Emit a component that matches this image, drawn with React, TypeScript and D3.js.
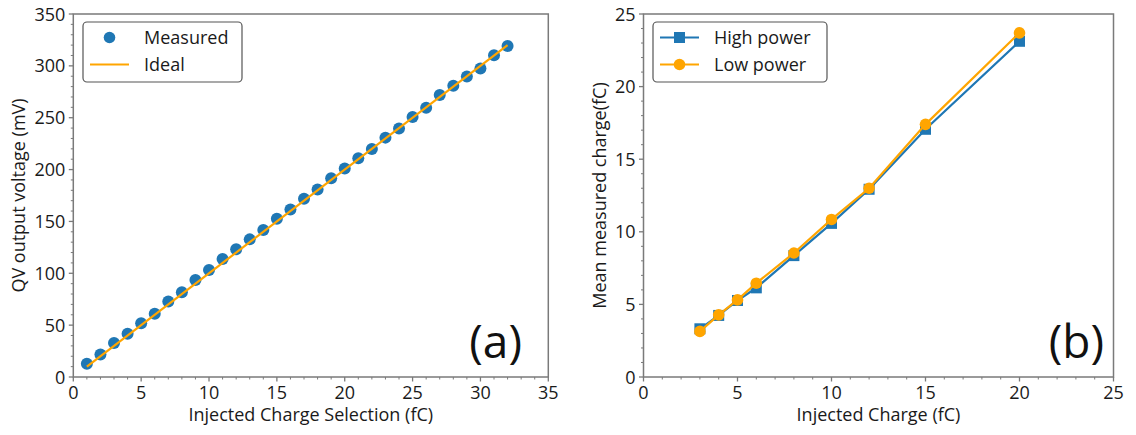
import React from 'react';
import * as d3 from 'd3';

// panel (a): QV output vs injected charge selection
const selCharge = [1, 2, 3, 4, 5, 6, 7, 8, 9, 10, 11, 12, 13, 14, 15, 16, 17, 18, 19, 20, 21, 22, 23, 24, 25, 26, 27, 28, 29, 30, 31, 32];
const measuredMv = [12.8, 21.8, 32.7, 41.7, 51.9, 60.9, 72.8, 81.7, 93.6, 103.2, 113.8, 123.1, 132.7, 141.7, 152.6, 161.5, 171.8, 180.8, 191.7, 201, 210.9, 219.9, 230.8, 239.7, 250.6, 259.6, 271.8, 280.8, 289.7, 297.4, 310.3, 319.2];
const idealX = [1, 32];
const idealMv = [10, 320];

// panel (b): mean measured charge
const injCharge = [3, 4, 5, 6, 8, 10, 12, 15, 20];
const highPower = [3.32, 4.24, 5.27, 6.14, 8.36, 10.58, 12.93, 17.06, 23.12];
const lowPower = [3.14, 4.28, 5.31, 6.46, 8.54, 10.85, 13.0, 17.4, 23.7];

const ticksA_x = [0, 5, 10, 15, 20, 25, 30, 35];
const ticksA_y = [0, 50, 100, 150, 200, 250, 300, 350];
const ticksB_x = [0, 5, 10, 15, 20, 25];
const ticksB_y = [0, 5, 10, 15, 20, 25];

const BLUE = '#1f77b4';
const ORANGE = '#ffa500';
const FONT = "'Open Sans', 'DejaVu Sans', sans-serif";
const TXT = '#1a1a1a';
const SPINE = '#7a7a7a';

const top = 14, bottom = 377;

type PanelProps = {
  left: number; right: number;
  xMax: number; yMax: number;
  xTicks: number[]; yTicks: number[];
  xMinor: number; yMinor: number;
  xTitle: string; yTitle: string; yTitleX: number;
  tag: string; tagEnd: number;
  children: (x: d3.ScaleLinear<number, number>, y: d3.ScaleLinear<number, number>) => React.ReactNode;
  legend: React.ReactNode;
};

function Panel(p: PanelProps) {
  const x = d3.scaleLinear().domain([0, p.xMax]).range([p.left, p.right]);
  const y = d3.scaleLinear().domain([0, p.yMax]).range([bottom, top]);
  const xMinors = d3.range(0, p.xMax + 1e-9, p.xMinor).filter(v => !p.xTicks.includes(v));
  const yMinors = d3.range(0, p.yMax + 1e-9, p.yMinor).filter(v => !p.yTicks.includes(v));
  return (
    <g>
      {/* minor ticks */}
      {xMinors.map(v => (
        <line key={'xm' + v} x1={x(v)} x2={x(v)} y1={bottom} y2={bottom + 2.5} stroke={SPINE} strokeWidth={1} />
      ))}
      {yMinors.map(v => (
        <line key={'ym' + v} x1={p.left - 2.5} x2={p.left} y1={y(v)} y2={y(v)} stroke={SPINE} strokeWidth={1} />
      ))}
      {/* major ticks + labels */}
      {p.xTicks.map(v => (
        <g key={'xt' + v}>
          <line x1={x(v)} x2={x(v)} y1={bottom} y2={bottom + 4.5} stroke={SPINE} strokeWidth={1.3} />
          <text x={x(v)} y={399} textAnchor="middle" fontSize={18} fill={TXT} fontFamily={FONT}>{v}</text>
        </g>
      ))}
      {p.yTicks.map(v => (
        <g key={'yt' + v}>
          <line x1={p.left - 4.5} x2={p.left} y1={y(v)} y2={y(v)} stroke={SPINE} strokeWidth={1.3} />
          <text x={p.left - 8} y={y(v) + 6.5} textAnchor="end" fontSize={18} fill={TXT} fontFamily={FONT}>{v}</text>
        </g>
      ))}
      {p.children(x, y)}
      {/* frame */}
      <rect x={p.left} y={top} width={p.right - p.left} height={bottom - top} fill="none" stroke={SPINE} strokeWidth={1.5} />
      {p.legend}
      <text x={p.tagEnd} y={358} textAnchor="end" fontSize={46} fill="#111" fontFamily={FONT}>{p.tag}</text>
      <text x={(p.left + p.right) / 2} y={421} textAnchor="middle" fontSize={18} fill={TXT} fontFamily={FONT}>{p.xTitle}</text>
      <text transform={`translate(${p.yTitleX},${(top + bottom) / 2}) rotate(-90)`} textAnchor="middle" fontSize={18} fill={TXT} fontFamily={FONT}>{p.yTitle}</text>
    </g>
  );
}

function LegendBox({ x0, x1, items }: { x0: number; x1: number; items: { label: string; line: boolean; marker: 'circle' | 'square' | null; color: string }[] }) {
  const rows = [37.5, 64.5];
  const hx0 = x0 + 7, hx1 = x0 + 46, hm = (hx0 + hx1) / 2;
  return (
    <g>
      <rect x={x0} y={22} width={x1 - x0} height={60} rx={4} fill="white" fillOpacity={0.85} stroke="#555" strokeWidth={1.2} />
      {items.map((it, i) => (
        <g key={it.label}>
          {it.line && <line x1={hx0} x2={hx1} y1={rows[i]} y2={rows[i]} stroke={it.color} strokeWidth={2.2} />}
          {it.marker === 'circle' && <circle cx={hm} cy={rows[i]} r={5.8} fill={it.color} />}
          {it.marker === 'square' && <rect x={hm - 5.5} y={rows[i] - 5.5} width={11} height={11} fill={it.color} />}
          <text x={x0 + 61} y={rows[i] + 6.5} fontSize={18} fill={TXT} fontFamily={FONT}>{it.label}</text>
        </g>
      ))}
    </g>
  );
}

export default function App() {
  const measured = selCharge.map((c, i) => ({ x: c, y: measuredMv[i] }));
  const ideal = idealX.map((c, i) => ({ x: c, y: idealMv[i] }));
  const hp = injCharge.map((c, i) => ({ x: c, y: highPower[i] }));
  const lp = injCharge.map((c, i) => ({ x: c, y: lowPower[i] }));

  return (
    <svg width={1136} height={435} style={{ position: 'absolute', left: 0, top: 0, background: 'white' }}>
      <rect width={1136} height={435} fill="white" />
      <Panel left={73.3} right={548.3} xMax={35} yMax={350} xTicks={ticksA_x} yTicks={ticksA_y} xMinor={1} yMinor={10}
        xTitle="Injected Charge Selection (fC)" yTitle="QV output voltage (mV)" yTitleX={25}
        tag="(a)" tagEnd={522}
        legend={<LegendBox x0={83} x1={242} items={[
          { label: 'Measured', line: false, marker: 'circle', color: BLUE },
          { label: 'Ideal', line: true, marker: null, color: ORANGE },
        ]} />}>
        {(x, y) => {
          const line = d3.line<{ x: number; y: number }>().x(d => x(d.x)).y(d => y(d.y));
          return (
            <g>
              {measured.map(d => <circle key={d.x} cx={x(d.x)} cy={y(d.y)} r={6} fill={BLUE} />)}
              <path d={line(ideal) || ''} fill="none" stroke={ORANGE} strokeWidth={2.2} />
            </g>
          );
        }}
      </Panel>
      <Panel left={643.5} right={1113.5} xMax={25} yMax={25} xTicks={ticksB_x} yTicks={ticksB_y} xMinor={1} yMinor={1}
        xTitle="Injected Charge (fC)" yTitle="Mean measured charge(fC)" yTitleX={606}
        tag="(b)" tagEnd={1104}
        legend={<LegendBox x0={653} x1={827} items={[
          { label: 'High power', line: true, marker: 'square', color: BLUE },
          { label: 'Low power', line: true, marker: 'circle', color: ORANGE },
        ]} />}>
        {(x, y) => {
          const line = d3.line<{ x: number; y: number }>().x(d => x(d.x)).y(d => y(d.y));
          return (
            <g>
              <path d={line(hp) || ''} fill="none" stroke={BLUE} strokeWidth={2.2} />
              {hp.map(d => <rect key={d.x} x={x(d.x) - 5.5} y={y(d.y) - 5.5} width={11} height={11} fill={BLUE} />)}
              <path d={line(lp) || ''} fill="none" stroke={ORANGE} strokeWidth={2.2} />
              {lp.map(d => <circle key={d.x} cx={x(d.x)} cy={y(d.y)} r={5.8} fill={ORANGE} />)}
            </g>
          );
        }}
      </Panel>
    </svg>
  );
}
